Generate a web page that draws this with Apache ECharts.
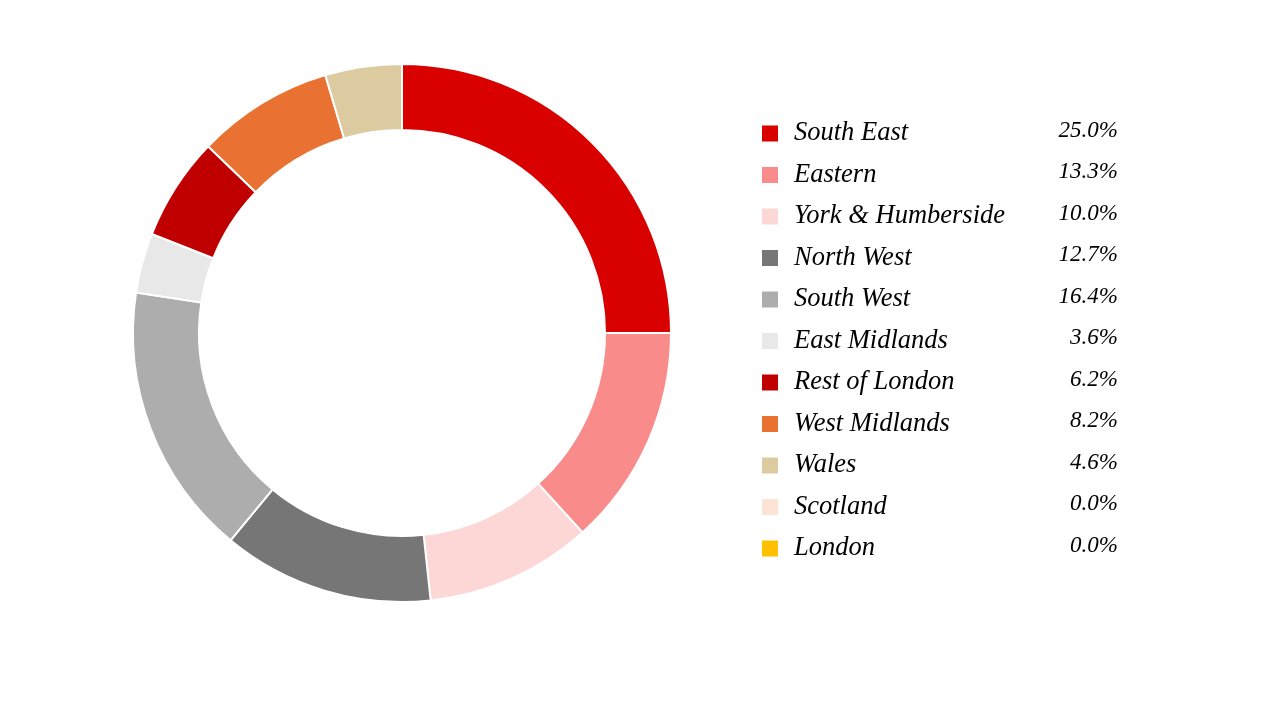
<!DOCTYPE html>
<html>
<head>
<meta charset="utf-8">
<script src="https://cdn.jsdelivr.net/npm/echarts@6/dist/echarts.min.js"></script>
<style>
  html, body { margin: 0; padding: 0; background: #fff; }
  #main { width: 1280px; height: 720px; }
</style>
</head>
<body>
<div id="main"></div>
<script>
const regions = ['South East', 'Eastern', 'York & Humberside', 'North West', 'South West',
  'East Midlands', 'Rest of London', 'West Midlands', 'Wales', 'Scotland', 'London']
const shares = [25.0, 13.3, 10.0, 12.7, 16.4, 3.6, 6.2, 8.2, 4.6, 0.0, 0.0]
const colors = ['#d90000', '#f98b8b', '#fdd6d6', '#767676', '#adadad',
  '#e8e8e8', '#c00000', '#e97132', '#dccba0', '#fbe3d6', '#ffc000']

const chart = echarts.init(document.getElementById('main'))

// share lookup for the legend text
const shareOf = {}
regions.forEach((r, i) => { shareOf[r] = shares[i] })

const option = {
  backgroundColor: '#fff',
  animation: false,
  legend: {
    orient: 'vertical',
    left: 762,
    top: 119,
    padding: 0,
    itemWidth: 16,
    itemHeight: 16,
    itemGap: 12.5,
    icon: 'rect',
    itemStyle: { borderWidth: 0 },
    data: regions,
    formatter: function (name) {
      return '{n|' + name + '}{v|' + shareOf[name].toFixed(1) + '%}'
    },
    textStyle: {
      rich: {
        n: {
          width: 253,
          padding: [0, 0, 0, 11],
          fontFamily: 'Liberation Serif',
          fontStyle: 'italic',
          fontSize: 26.5,
          lineHeight: 26,
          color: '#000'
        },
        v: {
          width: 71,
          align: 'right',
          fontFamily: 'Liberation Serif',
          fontStyle: 'italic',
          fontSize: 23,
          lineHeight: 20,
          padding: [0, 0, 6, 0],
          color: '#000'
        }
      }
    }
  },
  series: [{
    type: 'pie',
    center: [402, 333],
    radius: [203, 269],
    startAngle: 90,
    clockwise: true,
    label: { show: false },
    labelLine: { show: false },
    emphasis: { disabled: true },
    itemStyle: { borderColor: '#fff', borderWidth: 2 },
    data: regions.map((r, i) => ({
      name: r,
      value: shares[i],
      itemStyle: { color: colors[i] }
    }))
  }]
}

chart.setOption(option)
window.addEventListener('resize', function () { chart.resize() })
</script>
</body>
</html>
